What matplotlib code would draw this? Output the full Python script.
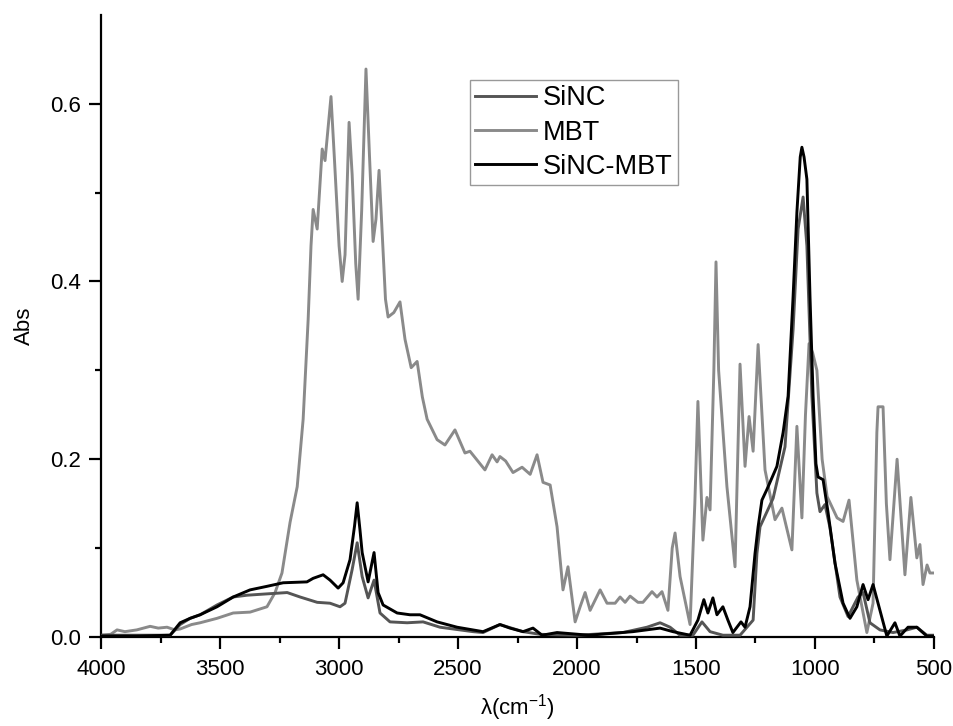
import numpy as np
import matplotlib.pyplot as plt

plt.rcParams['font.family'] = ['Liberation Sans', 'DejaVu Sans']
plt.rcParams['mathtext.default'] = 'regular'

# FTIR absorbance, wavenumber in cm-1
wn_sinc = [4000, 3850, 3710, 3668, 3626, 3584, 3513, 3445, 3387, 3332, 3218, 3164,
           3092, 3038, 2996, 2975, 2945, 2924, 2903, 2878, 2853, 2828, 2786, 2714,
           2647, 2576, 2437, 2395, 2324, 2227, 2155, 2000, 1807, 1706, 1651, 1609,
           1567, 1513, 1475, 1441, 1387, 1315, 1260, 1244, 1231, 1176, 1126, 1092,
           1071, 1050, 1034, 1013, 992, 979, 958, 937, 895, 861, 819, 798, 769, 727,
           672, 613, 572, 530, 500]
abs_sinc = [0.002, 0.002, 0.002, 0.014, 0.021, 0.025, 0.036, 0.045, 0.047, 0.048, 0.050, 0.045,
            0.039, 0.038, 0.034, 0.038, 0.076, 0.106, 0.068, 0.044, 0.064, 0.027, 0.017, 0.016,
            0.017, 0.011, 0.006, 0.005, 0.014, 0.006, 0.003, 0.002, 0.005, 0.011, 0.016, 0.011,
            0.002, 0.002, 0.017, 0.006, 0.002, 0.002, 0.019, 0.094, 0.124, 0.156, 0.214, 0.346,
            0.459, 0.495, 0.440, 0.271, 0.162, 0.141, 0.149, 0.123, 0.045, 0.023, 0.045, 0.050, 0.016, 0.008,
            0.005, 0.008, 0.011, 0.002, 0.002]

wn_mbt = [4000, 3960, 3933, 3900, 3850, 3794, 3760, 3723, 3690, 3668, 3620, 3584, 3513, 3445,
          3374, 3303, 3269, 3240, 3206, 3176, 3151, 3130, 3118, 3109, 3092, 3071, 3059, 3034,
          3020, 3000, 2987, 2975, 2958, 2945, 2930, 2920, 2905, 2887, 2872, 2857, 2845, 2832,
          2820, 2805, 2794, 2770, 2744, 2723, 2697, 2672, 2650, 2630, 2588, 2555, 2513, 2471,
          2450, 2387, 2357, 2336, 2324, 2300, 2269, 2231, 2197, 2168, 2143, 2113, 2084, 2059,
          2038, 2008, 1987, 1966, 1945, 1903, 1874, 1840, 1819, 1798, 1777, 1744, 1723, 1685,
          1664, 1643, 1618, 1600, 1588, 1567, 1525, 1505, 1492, 1471, 1454, 1441, 1425, 1416,
          1405, 1370, 1336, 1315, 1294, 1277, 1260, 1239, 1210, 1168, 1139, 1097, 1076, 1055,
          1040, 1025, 1010, 992, 970, 949, 907, 882, 857, 824, 782, 756, 740, 735, 714, 700,
          685, 655, 622, 597, 572, 559, 546, 529, 517, 500]
abs_mbt = [0.002, 0.003, 0.008, 0.006, 0.008, 0.012, 0.010, 0.011, 0.008, 0.009, 0.014, 0.016, 0.021, 0.027,
           0.028, 0.034, 0.050, 0.072, 0.129, 0.169, 0.245, 0.357, 0.440, 0.481, 0.459, 0.549, 0.536, 0.608,
           0.540, 0.440, 0.400, 0.430, 0.579, 0.520, 0.420, 0.380, 0.480, 0.639, 0.540, 0.445, 0.470, 0.525,
           0.460, 0.380, 0.360, 0.365, 0.377, 0.335, 0.303, 0.310, 0.270, 0.245, 0.222, 0.216, 0.233, 0.207,
           0.209, 0.188, 0.205, 0.197, 0.203, 0.198, 0.185, 0.191, 0.183, 0.205, 0.174, 0.171, 0.124, 0.053,
           0.079, 0.017, 0.034, 0.050, 0.030, 0.053, 0.038, 0.038, 0.045, 0.039, 0.046, 0.039, 0.039, 0.051,
           0.045, 0.051, 0.030, 0.100, 0.117, 0.068, 0.014, 0.150, 0.265, 0.109, 0.157, 0.143, 0.300, 0.422,
           0.300, 0.169, 0.079, 0.307, 0.192, 0.248, 0.209, 0.329, 0.188, 0.132, 0.145, 0.098, 0.237, 0.134,
           0.250, 0.330, 0.320, 0.300, 0.200, 0.158, 0.134, 0.130, 0.154, 0.064, 0.005, 0.038, 0.230, 0.259, 0.259, 0.150,
           0.087, 0.200, 0.070, 0.157, 0.089, 0.104, 0.059, 0.081, 0.072, 0.072]

wn_mix = [4000, 3850, 3710, 3668, 3626, 3584, 3513, 3445, 3374, 3303, 3235, 3135, 3109, 3067,
          3038, 3004, 2983, 2954, 2935, 2924, 2912, 2903, 2878, 2853, 2836, 2815, 2756, 2702,
          2660, 2588, 2504, 2395, 2324, 2282, 2227, 2185, 2147, 2084, 1950, 1765, 1651, 1597,
          1525, 1492, 1467, 1450, 1429, 1412, 1387, 1366, 1345, 1311, 1294, 1273, 1252, 1239,
          1223, 1202, 1160, 1134, 1113, 1092, 1076, 1062, 1055, 1046, 1034, 1021, 1008, 996,
          987, 966, 945, 916, 882, 853, 824, 798, 777, 756, 727, 698, 664, 643, 609, 572, 530, 500]
abs_mix = [0.001, 0.001, 0.002, 0.016, 0.021, 0.025, 0.034, 0.045, 0.053, 0.057, 0.061, 0.062, 0.066, 0.070,
           0.064, 0.055, 0.061, 0.087, 0.125, 0.151, 0.120, 0.095, 0.062, 0.095, 0.050, 0.036, 0.027, 0.025,
           0.025, 0.017, 0.011, 0.006, 0.014, 0.010, 0.006, 0.010, 0.002, 0.005, 0.002, 0.006, 0.010, 0.006,
           0.002, 0.019, 0.042, 0.027, 0.044, 0.025, 0.034, 0.019, 0.005, 0.017, 0.011, 0.034, 0.094, 0.124,
           0.154, 0.166, 0.192, 0.230, 0.271, 0.383, 0.478, 0.540, 0.551, 0.540, 0.515, 0.383, 0.271, 0.195,
           0.180, 0.177, 0.140, 0.083, 0.038, 0.021, 0.034, 0.059, 0.042, 0.059, 0.030, 0.001, 0.016, 0.001, 0.011, 0.011, 0.001, 0.001]

fig = plt.figure(figsize=(9.54, 7.26), dpi=100)
ax = fig.add_axes([0.106, 0.1226, 0.873, 0.857])

lw = 2.1
ax.plot(wn_sinc, abs_sinc, color='#555555', lw=lw, label='SiNC', zorder=3)
ax.plot(wn_mbt, abs_mbt, color='#8a8a8a', lw=lw, label='MBT', zorder=2)
ax.plot(wn_mix, abs_mix, color='#000000', lw=lw, label='SiNC-MBT', zorder=4)

ax.set_xlim(4000, 500)
ax.set_ylim(0, 0.70)
ax.set_xticks(np.arange(4000, 499, -500))
ax.set_xticks(np.arange(3750, 500, -500), minor=True)
ax.set_yticks([0.0, 0.2, 0.4, 0.6])
ax.set_yticks([0.1, 0.3, 0.5], minor=True)
ax.yaxis.set_major_formatter(plt.FormatStrFormatter('%.1f'))

for side in ['top', 'right']:
    ax.spines[side].set_visible(False)
for side in ['left', 'bottom']:
    ax.spines[side].set_linewidth(1.6)

ax.tick_params(which='major', direction='out', length=8.5, width=1.6, labelsize=16)
ax.tick_params(axis='x', which='major', pad=7)
ax.tick_params(axis='y', which='major', pad=6)
ax.tick_params(which='minor', direction='out', length=4.5, width=1.6)

ax.set_xlabel('λ(cm$^{-1}$)', fontsize=16, labelpad=9)
ax.set_ylabel('Abs', fontsize=16, labelpad=11)

leg = ax.legend(loc='upper left', bbox_to_anchor=(470 / 954, 1 - 80 / 726),
                bbox_transform=fig.transFigure, fontsize=19.5, handlelength=2.25,
                handletextpad=0.25, labelspacing=0.3, borderpad=0.2,
                borderaxespad=0, fancybox=False, framealpha=1)
leg.get_frame().set_edgecolor('#999999')
leg.get_frame().set_linewidth(1.0)

fig.savefig('out.png', dpi=100)
